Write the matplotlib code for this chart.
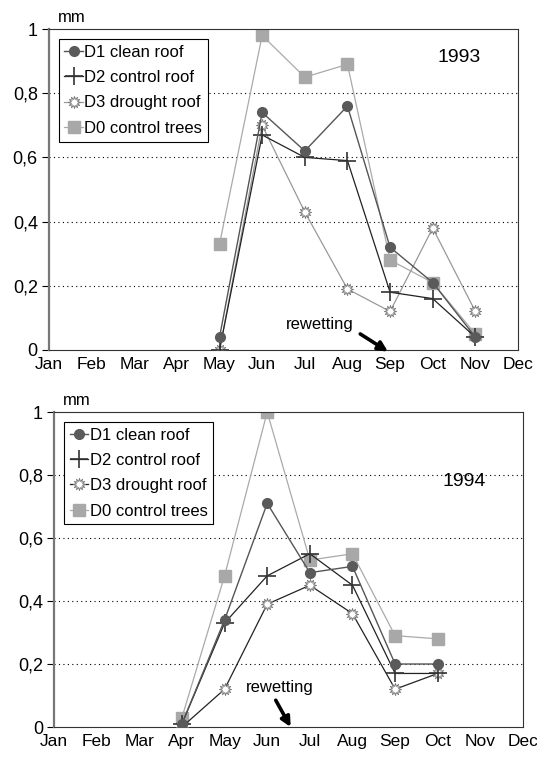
import numpy as np
import matplotlib.pyplot as plt
from matplotlib.ticker import FixedLocator, FuncFormatter

plt.rcParams['font.family'] = ['Liberation Sans', 'DejaVu Sans']

months = ['Jan', 'Feb', 'Mar', 'Apr', 'May', 'Jun', 'Jul', 'Aug', 'Sep', 'Oct', 'Nov', 'Dec']

# 1993 (May..Nov)
m93 = ['May', 'Jun', 'Jul', 'Aug', 'Sep', 'Oct', 'Nov']
d1_93 = [0.04, 0.74, 0.62, 0.76, 0.32, 0.21, 0.04]
d2_93 = [0.00, 0.67, 0.60, 0.59, 0.18, 0.16, 0.04]
d3_93 = [0.00, 0.70, 0.43, 0.19, 0.12, 0.38, 0.12]
d0_93 = [0.33, 0.98, 0.85, 0.89, 0.28, 0.21, 0.05]

# 1994 (Apr..Oct)
m94 = ['Apr', 'May', 'Jun', 'Jul', 'Aug', 'Sep', 'Oct']
d1_94 = [0.01, 0.34, 0.71, 0.49, 0.51, 0.20, 0.20]
d2_94 = [0.01, 0.33, 0.48, 0.55, 0.45, 0.17, 0.17]
d3_94 = [0.00, 0.12, 0.39, 0.45, 0.36, 0.12, 0.17]
d0_94 = [0.03, 0.48, 1.00, 0.53, 0.55, 0.29, 0.28]

labels = ['D1 clean roof', 'D2 control roof', 'D3 drought roof', 'D0 control trees']

fig = plt.figure(figsize=(5.37, 7.66), dpi=100)
ax1 = fig.add_axes([0.0912, 0.5431, 0.8734, 0.419])
ax2 = fig.add_axes([0.1006, 0.0509, 0.8734, 0.4112])


def draw(ax, mlist, d1, d2, d3, d0, year, d3line, arr_from, arr_to, txt_xy, ytxt):
    x = [months.index(m) for m in mlist]
    ax.plot(x, d0, color='#aaaaaa', lw=0.9, marker='s', ms=8, mfc='#a8a8a8', mec='#a8a8a8', label=labels[3], zorder=2)
    ax.plot(x, d3, color=d3line, lw=0.9, marker=(12, 1, 0), ms=9, mfc='white', mec='#777777', mew=0.6, label=labels[2], zorder=3)
    ax.plot(x, d2, color='#222222', lw=0.9, marker='+', ms=13, mew=1.2, mec='#333333', label=labels[1], zorder=4)
    ax.plot(x, d1, color='#555555', lw=1.0, marker='o', ms=7, mfc='#5a5a5a', mec='#5a5a5a', label=labels[0], zorder=5)
    h, l = ax.get_legend_handles_labels()
    order = [3, 2, 1, 0]
    leg = ax.legend([h[i] for i in order], [l[i] for i in order], loc='upper left',
                    bbox_to_anchor=(0.01, 0.985), fontsize=12, handlelength=1.1,
                    handletextpad=0.1, labelspacing=0.62, borderpad=0.35, borderaxespad=0.3,
                    fancybox=False, framealpha=1, edgecolor='black')
    leg.get_frame().set_linewidth(0.8)
    ax.set_xlim(0, 11)
    ax.set_ylim(0, 1)
    ax.set_xticks(range(12))
    ax.set_xticklabels(months, fontsize=12.5)
    ax.tick_params(axis='x', length=0, pad=5)
    ax.yaxis.set_major_locator(FixedLocator([0, 0.2, 0.4, 0.6, 0.8, 1]))
    ax.yaxis.set_major_formatter(FuncFormatter(lambda v, p: ('%g' % round(v, 1)).replace('.', ',')))
    ax.tick_params(axis='y', length=5, width=0.8, labelsize=13, direction='out', pad=3)
    for yv in [0.2, 0.4, 0.6, 0.8]:
        ax.axhline(yv, color='black', lw=0.8, ls=(0, (1, 3)), zorder=0)
    for s in ['top', 'right', 'bottom']:
        ax.spines[s].set_linewidth(0.8)
        ax.spines[s].set_color('#333333')
    ax.spines['left'].set_linewidth(1.6)
    ax.spines['left'].set_color('#777777')
    ax.text(0.02, 1.012, 'mm', transform=ax.transAxes, fontsize=12, va='bottom')
    ax.text(0.875, ytxt, year, transform=ax.transAxes, fontsize=14, ha='center', va='center')
    ax.annotate('', xy=arr_to, xytext=arr_from, annotation_clip=False,
                arrowprops=dict(arrowstyle='-|>', color='black', lw=2.6, mutation_scale=14,
                                shrinkA=0, shrinkB=0))
    ax.text(txt_xy[0], txt_xy[1], 'rewetting', fontsize=12, ha='center', va='center')


draw(ax1, m93, d1_93, d2_93, d3_93, d0_93, '1993', '#999999',
     (7.3, 0.05), (7.95, -0.005), (6.35, 0.08), 0.91)
draw(ax2, m94, d1_94, d2_94, d3_94, d0_94, '1994', '#222222',
     (5.2, 0.085), (5.55, 0.0), (5.3, 0.125), 0.78)

plt.savefig('out.png', dpi=100)
